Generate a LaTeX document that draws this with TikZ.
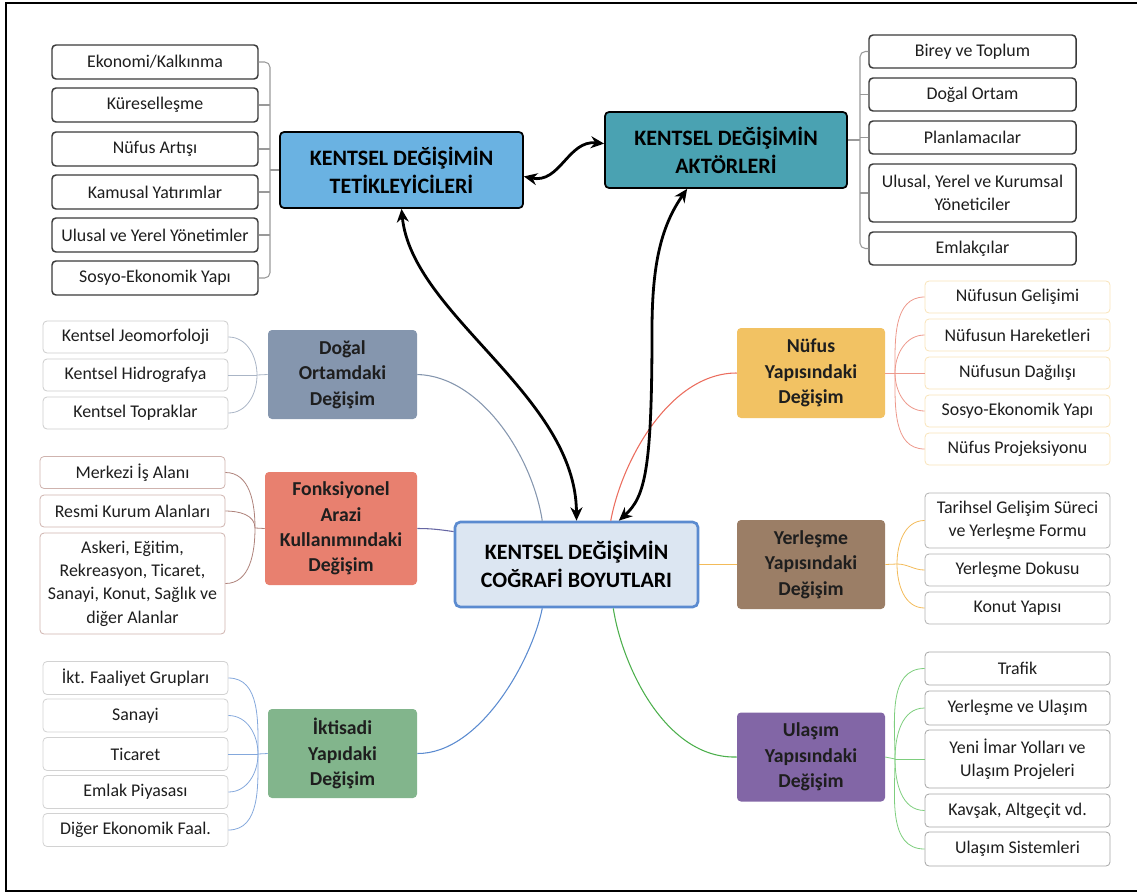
\documentclass[tikz,border=0pt]{standalone}
\usepackage{fontspec}
\setmainfont{Carlito}
\usetikzlibrary{arrows.meta}
\definecolor{txt}{HTML}{1E1E1E}
\definecolor{dk}{HTML}{3A3A3A}
\definecolor{tetc}{HTML}{6AB2E2}
\definecolor{aktc}{HTML}{4AA2B2}
\definecolor{cenf}{HTML}{DCE6F2}
\definecolor{cenb}{HTML}{5B8BD0}
\definecolor{dogc}{HTML}{8596AE}
\definecolor{fonc}{HTML}{E8806F}
\definecolor{iktc}{HTML}{82B58C}
\definecolor{nufc}{HTML}{F2C263}
\definecolor{yerc}{HTML}{9B7E66}
\definecolor{ulac}{HTML}{8266A6}
\begin{document}
\begin{tikzpicture}[x=0.75pt,y=-0.75pt,
  sz/.style 2 args={minimum width=#1*0.75pt, minimum height=#2*0.75pt},
  itm/.style={rounded corners=3pt, fill=white, inner sep=0pt, align=center,
    font=\fontsize{13.4}{17.5}\selectfont, text=txt, line width=0.6pt},
  itmdk/.style={itm, draw=dk, line width=1.1pt},
  grp/.style={rounded corners=3pt, inner sep=0pt, align=center,
    font=\fontsize{14.8}{19}\selectfont\bfseries, text=txt},
  mainbox/.style={rounded corners=3pt, inner sep=0pt, align=center,
    font=\fontsize{16.5}{21}\selectfont\bfseries, text=black},
  brk/.style={draw=gray!80, line width=0.8pt},
  fan/.style={draw=#1, line width=0.6pt},
  link/.style={draw=#1, line width=0.8pt},
  bigarrow/.style={line width=2.1pt, {Stealth[length=10pt,width=9pt]}-{Stealth[length=10pt,width=9pt]}}
]
\useasboundingbox (0,0) rectangle (1137,895);
\draw[line width=1.6pt] (1142,3) -- (6,3) -- (6,891) -- (1142,891);

% main nodes
\node[mainbox, fill=tetc, draw=black, line width=1.3pt, sz={243}{76}] (tet) at (401.5,170) {KENTSEL DEĞİŞİMİN\\TETİKLEYİCİLERİ};
\node[mainbox, fill=aktc, draw=black, line width=1.3pt, sz={242}{76}] (akt) at (726,150) {KENTSEL DEĞİŞİMİN\\AKTÖRLERİ};
\node[mainbox, fill=cenf, draw=cenb, line width=2pt, rounded corners=4pt, sz={243}{85}] (cen) at (576.5,564.5) {KENTSEL DEĞİŞİMİN\\COĞRAFİ BOYUTLARI};

% Tetikleyiciler items
\node[itmdk, sz={206}{34}] (t1) at (155,62) {Ekonomi/Kalkınma};
\node[itmdk, sz={206}{34}] (t2) at (155,105) {Küreselleşme};
\node[itmdk, sz={206}{34}] (t3) at (155,149) {Nüfus Artışı};
\node[itmdk, sz={206}{34}] (t4) at (155,192) {Kamusal Yatırımlar};
\node[itmdk, sz={206}{34}] (t5) at (155,235) {Ulusal ve Yerel Yönetimler};
\node[itmdk, sz={206}{34}] (t6) at (155,278) {Sosyo-Ekonomik Yapı};
\coordinate (th) at (270,170);
\draw[brk, rounded corners=4pt] (t1.east) -| (th) |- (t6.east);
\foreach \n in {t2,t3,t4,t5} \draw[brk] (\n.east) -- (th |- \n.east);
\draw[brk] (th) -- (tet.west);

% Aktorler items
\node[itmdk, sz={207}{33}] (a1) at (972.5,51.5) {Birey ve Toplum};
\node[itmdk, sz={207}{33}] (a2) at (972.5,94.5) {Doğal Ortam};
\node[itmdk, sz={207}{33}] (a3) at (972.5,137.5) {Planlamacılar};
\node[itmdk, sz={207}{58}] (a4) at (972.5,193) {Ulusal, Yerel ve Kurumsal\\Yöneticiler};
\node[itmdk, sz={207}{33}] (a5) at (972.5,248.5) {Emlakçılar};
\coordinate (ah) at (860,140);
\draw[brk, rounded corners=4pt] (a1.west) -| (ah) |- (a5.west);
\foreach \n in {a2,a3,a4} \draw[brk] (\n.west) -- (ah |- \n.west);
\draw[brk] (ah) -- (akt.east |- ah);

% Dogal Ortam
\node[grp, fill=dogc, sz={149}{89}] (dog) at (342.5,374.5) {Doğal\\Ortamdaki\\Değişim};
\node[itm, draw=gray!40, sz={185}{32}] (d1) at (135.5,337) {Kentsel Jeomorfoloji};
\node[itm, draw=gray!40, sz={185}{32}] (d2) at (135.5,375) {Kentsel Hidrografya};
\node[itm, draw=gray!40, sz={185}{32}] (d3) at (135.5,413) {Kentsel Topraklar};
\coordinate (dh) at (257,375);
\draw[fan=dogc!70] (d1.east) to[out=0,in=90] (dh);
\draw[fan=dogc!70] (d2.east) -- (dh);
\draw[fan=dogc!70] (d3.east) to[out=0,in=-90] (dh);
\draw[fan=dogc!70] (dh) -- (dog.west);

% Fonksiyonel
\node[grp, fill=fonc, sz={152}{113}] (fon) at (341,528.5) {Fonksiyonel\\Arazi\\Kullanımındaki\\Değişim};
\node[itm, draw=fonc!45!gray!60, sz={185}{32}] (f1) at (132.5,472.5) {Merkezi İş Alanı};
\node[itm, draw=fonc!45!gray!60, sz={185}{32}] (f2) at (132.5,511) {Resmi Kurum Alanları};
\node[itm, draw=fonc!45!gray!60, sz={185}{101}] (f3) at (132.5,583.5) {Askeri, Eğitim,\\Rekreasyon, Ticaret,\\Sanayi, Konut, Sağlık ve\\diğer Alanlar};
\coordinate (fh) at (255,528);
\draw[fan=fonc!60!black!70] (f1.east) to[out=0,in=90] (fh);
\draw[fan=fonc!60!black!70] (f2.east) to[out=0,in=90] (fh);
\draw[fan=fonc!60!black!70] (f3.east) to[out=0,in=-90] (fh);
\draw[fan=fonc!60!black!70] (fh) -- (fon.west);

% Iktisadi
\node[grp, fill=iktc, sz={149}{89}] (ikt) at (342.5,753.5) {İktisadi\\Yapıdaki\\Değişim};
\node[itm, draw=gray!35, sz={185}{33}] (k1) at (135.5,678) {İkt. Faaliyet Grupları};
\node[itm, draw=gray!35, sz={185}{33}] (k2) at (135.5,715.5) {Sanayi};
\node[itm, draw=gray!35, sz={185}{33}] (k3) at (135.5,754) {Ticaret};
\node[itm, draw=gray!35, sz={185}{33}] (k4) at (135.5,792) {Emlak Piyasası};
\node[itm, draw=gray!35, sz={185}{33}] (k5) at (135.5,830) {Diğer Ekonomik Faal.};
\coordinate (kh) at (258,754);
\draw[fan=cenb!75] (k1.east) to[out=0,in=90] (kh);
\draw[fan=cenb!75] (k2.east) to[out=0,in=90] (kh);
\draw[fan=cenb!75] (k3.east) -- (kh);
\draw[fan=cenb!75] (k4.east) to[out=0,in=-90] (kh);
\draw[fan=cenb!75] (k5.east) to[out=0,in=-90] (kh);
\draw[fan=cenb!75] (kh) -- (ikt.west);

% Nufus
\node[grp, fill=nufc, sz={148}{90}] (nuf) at (811,373) {Nüfus\\Yapısındaki\\Değişim};
\node[itm, draw=nufc!45, sz={185}{32}] (n1) at (1017.5,297) {Nüfusun Gelişimi};
\node[itm, draw=nufc!45, sz={185}{32}] (n2) at (1017.5,335) {Nüfusun Hareketleri};
\node[itm, draw=nufc!45, sz={185}{32}] (n3) at (1017.5,373) {Nüfusun Dağılışı};
\node[itm, draw=nufc!45, sz={185}{32}] (n4) at (1017.5,411) {Sosyo-Ekonomik Yapı};
\node[itm, draw=nufc!45, sz={185}{32}] (n5) at (1017.5,449) {Nüfus Projeksiyonu};
\coordinate (nh) at (895,373);
\draw[fan=fonc!80] (nh) to[out=90,in=180] (n1.west);
\draw[fan=fonc!80] (nh) to[out=90,in=180] (n2.west);
\draw[fan=fonc!80] (nh) -- (n3.west);
\draw[fan=fonc!80] (nh) to[out=-90,in=180] (n4.west);
\draw[fan=fonc!80] (nh) to[out=-90,in=180] (n5.west);
\draw[fan=fonc!80] (nuf.east) -- (nh);

% Yerlesme
\node[grp, fill=yerc, sz={148}{89}] (yer) at (811,564.5) {Yerleşme\\Yapısındaki\\Değişim};
\node[itm, draw=gray!60, sz={185}{55}] (y1) at (1017.5,520.5) {Tarihsel Gelişim Süreci\\ve Yerleşme Formu};
\node[itm, draw=gray!60, sz={185}{32}] (y2) at (1017.5,570) {Yerleşme Dokusu};
\node[itm, draw=gray!60, sz={185}{32}] (y3) at (1017.5,608) {Konut Yapısı};
\coordinate (yh) at (897,564);
\draw[fan=nufc!90!orange] (yh) to[out=90,in=180] (y1.west);
\draw[fan=nufc!90!orange] (yh) to[out=0,in=180] (y2.west);
\draw[fan=nufc!90!orange] (yh) to[out=-90,in=180] (y3.west);
\draw[fan=nufc!90!orange] (yer.east) -- (yh);

% Ulasim
\node[grp, fill=ulac, sz={148}{89}] (ula) at (811,757) {Ulaşım\\Yapısındaki\\Değişim};
\node[itm, draw=gray!70, sz={185}{33}] (u1) at (1017.5,668.5) {Trafik};
\node[itm, draw=gray!70, sz={185}{34}] (u2) at (1017.5,708) {Yerleşme ve Ulaşım};
\node[itm, draw=gray!70, sz={185}{58}] (u3) at (1017.5,759) {Yeni İmar Yolları ve\\Ulaşım Projeleri};
\node[itm, draw=gray!70, sz={185}{33}] (u4) at (1017.5,810.5) {Kavşak, Altgeçit vd.};
\node[itm, draw=gray!70, sz={185}{34}] (u5) at (1017.5,849) {Ulaşım Sistemleri};
\coordinate (uh) at (895,759);
\draw[fan=green!45!gray!70] (uh) to[out=90,in=180] (u1.west);
\draw[fan=green!45!gray!70] (uh) to[out=90,in=180] (u2.west);
\draw[fan=green!45!gray!70] (uh) -- (u3.west);
\draw[fan=green!45!gray!70] (uh) to[out=-90,in=180] (u4.west);
\draw[fan=green!45!gray!70] (uh) to[out=-90,in=180] (u5.west);
\draw[fan=green!45!gray!70] (ula.east) -- (uh);

% group -> center links
\draw[link=dogc] (dog.east) .. controls (480,376) and (532,455) .. (cen.128);
\draw[link=black!60!blue!60] (fon.east) to[out=0,in=172] (cen.165);
\draw[link=cenb] (ikt.east) .. controls (480,754) and (532,660) .. (cen.232);
\draw[link=fonc!85!red] (nuf.west) .. controls (670,373) and (622,460) .. (cen.52);
\draw[link=nufc!90!orange] (cen.east) -- (yer.west);
\draw[link=green!55!black!70] (ula.west) .. controls (665,759) and (622,665) .. (cen.-50);

% big arrows
\draw[bigarrow] (tet.-3) .. controls (560,184) and (568,140) .. (akt.177);
\draw[bigarrow] (tet.south) .. controls (412,315) and (576,395) .. (cen.north);
\draw[bigarrow] (akt.225) .. controls (662,225) and (652,262) .. (652,330) .. controls (652,470) and (645,497) .. (cen.46);
\end{tikzpicture}
\end{document}
